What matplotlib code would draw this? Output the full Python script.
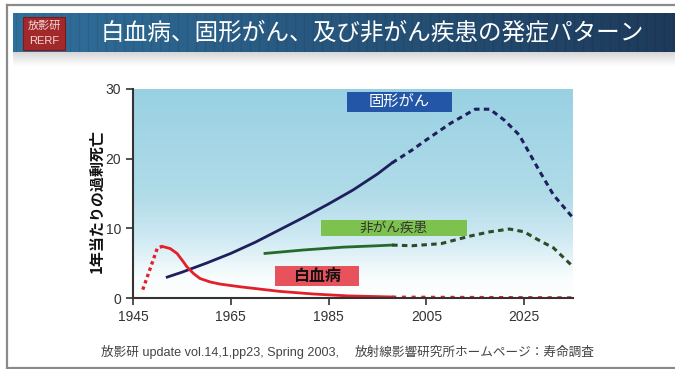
import matplotlib
matplotlib.use("Agg")
import matplotlib.pyplot as plt
import numpy as np
from matplotlib.colors import LinearSegmentedColormap
from matplotlib.patches import Rectangle
from matplotlib.lines import Line2D

plt.rcParams['font.family'] = ['Liberation Sans', 'Noto Sans CJK JP', 'DejaVu Sans']

# 固形がん (観察 / 予測)
solid_years = [1952, 1955, 1960, 1965, 1970, 1975, 1980, 1985, 1990, 1995, 1998]
solid_obs = [3.0, 3.7, 5.0, 6.4, 8.0, 9.8, 11.6, 13.5, 15.5, 17.8, 19.4]
solid_proj_years = [1998, 2002, 2005, 2010, 2015, 2018, 2021, 2024, 2028, 2031, 2035]
solid_proj = [19.4, 21.2, 22.7, 25.1, 27.1, 27.1, 25.5, 23.4, 18.4, 14.8, 11.5]

# 非がん疾患
nc_years = [1972, 1980, 1988, 1995, 1998]
nc_obs = [6.4, 6.9, 7.3, 7.5, 7.6]
nc_proj_years = [1998, 2002, 2008, 2014, 2018, 2022, 2025, 2028, 2031, 2035]
nc_proj = [7.6, 7.5, 7.8, 8.9, 9.5, 9.9, 9.5, 8.3, 7.2, 4.5]

# 白血病
leu_early_years = [1947, 1948, 1949, 1950, 1951]
leu_early = [1.2, 3.2, 5.2, 7.2, 7.4]
leu_years = [1951, 1952.6, 1954, 1955.3, 1956, 1957.4, 1958.7, 1960.8, 1962.8, 1967, 1975, 1982, 1989, 1998]
leu_obs = [7.4, 7.1, 6.4, 5.2, 4.5, 3.5, 2.8, 2.3, 2.0, 1.6, 0.95, 0.57, 0.3, 0.15]
leu_proj_years = [1998, 2035]
leu_proj = [0.15, 0.05]

xticks = [1945, 1965, 1985, 2005, 2025]
yticks = [0, 10, 20, 30]

W, H = 675, 369
fig = plt.figure(figsize=(W / 100, H / 100), dpi=100)


def fx(px):
    return px / W


def fy(py):
    return 1 - py / H


# 外枠
for (x0, y0, x1, y1) in [(6.5, 4.5, 675, 4.5), (6.5, 4.5, 6.5, 367.5), (6.5, 367.5, 675, 367.5)]:
    fig.add_artist(Line2D([fx(x0), fx(x1)], [fy(y0), fy(y1)], color='#8a8a8a', lw=1.6))

# タイトル帯
bax = fig.add_axes([fx(13), fy(52), 1 - fx(13), (52 - 13) / H])
bax.set_axis_off()
c0 = np.array([48, 112, 156]) / 255
c1 = np.array([30, 58, 90]) / 255
t = np.linspace(0, 1, 400)
grad = c0[None, :] * (1 - t[:, None]) + c1[None, :] * t[:, None]
bax.imshow(grad[None, :, :], aspect='auto', extent=[0, 1, 0, 1])
for xs in np.arange(0.005, 1, 9 / 662):
    bax.axvline(xs, color='black', alpha=0.08, lw=0.8)
bax.set_xlim(0, 1)
bax.set_ylim(0, 1)

# 帯の下の影
sax = fig.add_axes([fx(13), fy(66), 1 - fx(13), 14 / H])
sax.set_axis_off()
sh = np.linspace(0.84, 1.0, 50)
sax.imshow(np.repeat(sh[:, None], 2, axis=1)[:, :, None].repeat(3, axis=2), aspect='auto',
           extent=[0, 1, 0, 1])

# ロゴ
fig.add_artist(Rectangle((fx(23), fy(50)), fx(65) - fx(23), (50 - 17) / H,
                         facecolor='#a3282a', edgecolor='#7a1a1a', lw=0.8))
fig.text(fx(44), fy(26), '放影研', color='#f0d8d8', fontsize=8, ha='center', va='center',
         family=['Noto Sans CJK JP'])
fig.text(fx(44), fy(41), 'RERF', color='#f0d8d8', fontsize=8, ha='center', va='center')

fig.text(fx(101), fy(33), '白血病、固形がん、及び非がん疾患の発症パターン', color='white',
         fontsize=17, ha='left', va='center', family=['Noto Sans CJK JP'])

# グラフ本体
ax = fig.add_axes([fx(133), fy(298), fx(573) - fx(133), (298 - 89) / H])
cmap = LinearSegmentedColormap.from_list('bg', [
    (0.0, (1.0, 1.0, 1.0)),
    (0.1, (0.97, 0.99, 0.99)),
    (0.3, (0.80, 0.91, 0.95)),
    (0.5, (0.69, 0.86, 0.91)),
    (1.0, (0.60, 0.82, 0.89)),
])
ax.imshow(np.linspace(0, 1, 300)[:, None], cmap=cmap, aspect='auto', origin='lower',
          extent=[1945, 2035, 0, 30], zorder=0)

ax.plot(solid_years, solid_obs, color='#1e1f5c', lw=2, zorder=3)
ax.plot(solid_proj_years, solid_proj, color='#1e1f5c', lw=2.2, ls=(0, (1.8, 1.4)), zorder=3)
ax.plot(nc_years, nc_obs, color='#246a2a', lw=2, zorder=3)
ax.plot(nc_proj_years, nc_proj, color='#2e4a26', lw=2.2, ls=(0, (1.8, 1.4)), zorder=3)
ax.plot(leu_early_years, leu_early, color='#e3202a', lw=2.4, ls=(0, (1, 1)), zorder=3)
ax.plot(leu_years, leu_obs, color='#e3202a', lw=2, zorder=3)
ax.plot(leu_proj_years, leu_proj, color='#e3202a', lw=2, ls=(0, (1.5, 2)), zorder=3)

# ラベル
labels = [
    ('固形がん', 1988.7, 2010.2, 26.7, 29.6, '#2456a8', 'white', 11, 'normal'),
    ('非がん疾患', 1983.4, 2013.3, 8.9, 11.2, '#7dc24f', '#333333', 9.8, 'normal'),
    ('白血病', 1974.1, 1991.2, 1.7, 4.6, '#e8525c', '#111111', 11.5, 'bold'),
]
for txt, x0, x1, y0, y1, fc, tc, fs, fw in labels:
    ax.add_patch(Rectangle((x0, y0), x1 - x0, y1 - y0, facecolor=fc, edgecolor='none', zorder=4))
    ax.text((x0 + x1) / 2, (y0 + y1) / 2, txt, color=tc, fontsize=fs, fontweight=fw,
            ha='center', va='center', family=['Noto Sans CJK JP'], zorder=5)

ax.set_xlim(1945, 2035)
ax.set_ylim(0, 30)
ax.set_xticks(xticks)
ax.set_yticks(yticks)
for s in ['top', 'right']:
    ax.spines[s].set_visible(False)
for s in ['left', 'bottom']:
    ax.spines[s].set_color('#333333')
    ax.spines[s].set_linewidth(1.5)
    ax.spines[s].set_zorder(6)
ax.tick_params(direction='out', length=5, width=1.2, color='#333333', labelcolor='#333333',
               labelsize=10)

fig.text(fx(97), fy(201), '1年当たりの過剰死亡', rotation=90, fontsize=10.8, fontweight='bold',
         ha='center', va='center', color='#111111', family=['Noto Sans CJK JP'])

# 出典
fig.text(fx(101), fy(352), '放影研 update vol.14,1,pp23, Spring 2003,', fontsize=9.1,
         color='#444444', ha='left', va='center')
fig.text(fx(355), fy(352), '放射線影響研究所ホームページ：寿命調査', fontsize=9.1,
         color='#444444', ha='left', va='center', family=['Noto Sans CJK JP'])

fig.savefig('out.png', dpi=100)
